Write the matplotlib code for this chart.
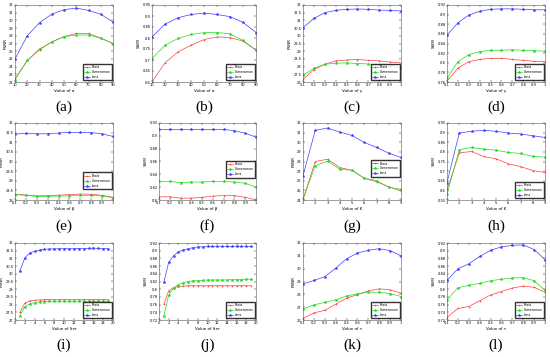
import matplotlib
matplotlib.use("Agg")
import matplotlib.pyplot as plt

W, H = 550, 357

names = ["Boats", "Cameraman", "Lena"]
colors = ["#ff4040", "#20dd20", "#4040ff"]
markers = ["+", "*", "*"]

# x values
x_alpha = [10, 20, 30, 40, 50, 60, 70, 80, 90]
x_frac = [0.1, 0.2, 0.3, 0.4, 0.5, 0.6, 0.7, 0.8, 0.9, 1.0]
x_k = [1, 2, 3, 4, 5, 6, 7, 8, 9]
x_iter = list(range(1, 20))

# (a) PSNR vs alpha
a_boats = [22.4, 24.8, 26.2, 27.2, 27.9, 28.3, 28.3, 27.7, 27.0]
a_camera = [22.3, 24.8, 26.3, 27.2, 27.9, 28.1, 28.1, 27.7, 27.0]
a_lena = [25.0, 28.0, 29.7, 30.8, 31.4, 31.6, 31.3, 30.8, 29.8]
# (b) SSIM vs alpha
b_boats = [0.600, 0.687, 0.737, 0.767, 0.793, 0.805, 0.802, 0.786, 0.745]
b_camera = [0.706, 0.767, 0.798, 0.816, 0.824, 0.825, 0.819, 0.789, 0.745]
b_lena = [0.805, 0.863, 0.892, 0.907, 0.913, 0.907, 0.897, 0.871, 0.825]
# (c) PSNR vs gamma
c_boats = [27.17, 27.80, 28.15, 28.37, 28.43, 28.46, 28.41, 28.37, 28.30, 28.24]
c_camera = [27.43, 27.89, 28.15, 28.22, 28.24, 28.20, 28.17, 28.11, 28.02, 27.93]
c_lena = [30.52, 31.13, 31.50, 31.65, 31.72, 31.74, 31.72, 31.67, 31.65, 31.61]
# (d) SSIM vs gamma
d_boats = [0.762, 0.789, 0.802, 0.807, 0.809, 0.809, 0.807, 0.805, 0.803, 0.802]
d_camera = [0.768, 0.802, 0.817, 0.823, 0.826, 0.826, 0.827, 0.826, 0.825, 0.824]
d_lena = [0.857, 0.883, 0.899, 0.907, 0.911, 0.912, 0.912, 0.911, 0.910, 0.910]
# (e) PSNR vs beta
e_boats = [28.30, 28.26, 28.21, 28.23, 28.25, 28.28, 28.31, 28.30, 28.24, 28.14]
e_camera = [28.28, 28.24, 28.19, 28.19, 28.21, 28.22, 28.24, 28.24, 28.21, 28.12]
e_lena = [31.43, 31.46, 31.44, 31.44, 31.48, 31.51, 31.51, 31.50, 31.44, 31.30]
# (f) SSIM vs beta
f_boats = [0.805, 0.805, 0.803, 0.803, 0.804, 0.806, 0.807, 0.807, 0.804, 0.800]
f_camera = [0.829, 0.829, 0.827, 0.828, 0.828, 0.829, 0.829, 0.828, 0.826, 0.820]
f_lena = [0.910, 0.910, 0.910, 0.910, 0.910, 0.910, 0.910, 0.908, 0.904, 0.898]
# (g) PSNR vs K
g_boats = [24.07, 28.00, 28.24, 27.37, 27.10, 26.26, 25.90, 25.36, 24.94]
g_camera = [24.07, 27.58, 28.03, 27.20, 27.10, 26.26, 26.02, 25.32, 25.11]
g_lena = [26.54, 31.23, 31.48, 31.06, 30.71, 29.98, 29.46, 28.87, 28.42]
# (h) SSIM vs K
h_boats = [0.602, 0.795, 0.802, 0.776, 0.764, 0.738, 0.724, 0.703, 0.693]
h_camera = [0.580, 0.811, 0.823, 0.814, 0.809, 0.797, 0.792, 0.776, 0.773]
h_lena = [0.640, 0.898, 0.907, 0.912, 0.907, 0.898, 0.893, 0.884, 0.875]
# (i) PSNR vs iterations
i_boats = [27.50, 28.09, 28.24, 28.28, 28.30, 28.32, 28.33, 28.33, 28.33, 28.33,
           28.33, 28.33, 28.33, 28.33, 28.33, 28.33, 28.33, 28.33, 28.33]
i_camera = [27.28, 27.87, 28.04, 28.13, 28.17, 28.20, 28.21, 28.22, 28.22, 28.22,
            28.22, 28.22, 28.22, 28.22, 28.22, 28.22, 28.22, 28.22, 28.22]
i_lena = [30.20, 31.02, 31.35, 31.46, 31.54, 31.59, 31.61, 31.62, 31.63, 31.63,
          31.63, 31.63, 31.64, 31.64, 31.65, 31.67, 31.65, 31.64, 31.63]
# (j) SSIM vs iterations
j_boats = [0.761, 0.796, 0.804, 0.807, 0.808, 0.809, 0.809, 0.809, 0.809, 0.809,
           0.809, 0.809, 0.809, 0.809, 0.809, 0.809, 0.809, 0.809, 0.809]
j_camera = [0.731, 0.785, 0.803, 0.812, 0.817, 0.820, 0.822, 0.822, 0.823, 0.824,
            0.824, 0.824, 0.824, 0.824, 0.825, 0.825, 0.825, 0.826, 0.826]
j_lena = [0.818, 0.870, 0.887, 0.897, 0.902, 0.905, 0.908, 0.910, 0.910, 0.911,
          0.911, 0.911, 0.911, 0.911, 0.911, 0.912, 0.911, 0.911, 0.911]
# (k) PSNR vs tau
k_boats = [26.13, 26.55, 26.76, 27.23, 27.70, 27.98, 28.27, 28.43, 28.35, 28.09]
k_camera = [26.86, 27.17, 27.38, 27.57, 27.88, 28.03, 28.17, 28.17, 28.06, 27.83]
k_lena = [28.82, 29.08, 29.37, 30.04, 30.77, 31.22, 31.43, 31.56, 31.40, 31.01]
# (l) SSIM vs tau
l_boats = [0.727, 0.750, 0.755, 0.770, 0.785, 0.794, 0.803, 0.808, 0.805, 0.792]
l_camera = [0.772, 0.804, 0.810, 0.815, 0.822, 0.826, 0.829, 0.830, 0.822, 0.797]
l_lena = [0.823, 0.853, 0.866, 0.885, 0.901, 0.910, 0.914, 0.915, 0.903, 0.877]

panels = [
    ("a", x_alpha, [a_boats, a_camera, a_lena], "PSNR", "Value of \u03b1", (22, 32), 1),
    ("b", x_alpha, [b_boats, b_camera, b_lena], "SSIM", "Value of \u03b1", (0.6, 0.95), 0.05),
    ("c", x_frac, [c_boats, c_camera, c_lena], "PSNR", "Value of \u03b3", (27, 32), 0.5),
    ("d", x_frac, [d_boats, d_camera, d_lena], "SSIM", "Value of \u03b3", (0.76, 0.92), 0.02),
    ("e", x_frac, [e_boats, e_camera, e_lena], "PSNR", "Value of \u03b2", (28, 32), 0.5),
    ("f", x_frac, [f_boats, f_camera, f_lena], "SSIM", "Value of \u03b2", (0.8, 0.92), 0.02),
    ("g", x_k, [g_boats, g_camera, g_lena], "PSNR", "Value of K", (24, 32), 1),
    ("h", x_k, [h_boats, h_camera, h_lena], "SSIM", "Value of K", (0.55, 0.95), 0.05),
    ("i", x_iter, [i_boats, i_camera, i_lena], "PSNR", "Value of Iter", (27, 32), 0.5),
    ("j", x_iter, [j_boats, j_camera, j_lena], "SSIM", "Value of Iter", (0.72, 0.92), 0.02),
    ("k", x_frac, [k_boats, k_camera, k_lena], "PSNR", "Value of \u03c4", (26, 32), 1),
    ("l", x_frac, [l_boats, l_camera, l_lena], "SSIM", "Value of \u03c4", (0.72, 0.92), 0.02),
]

# legend bottom edge (axes fraction) per panel
legend_y = [0.02, 0.02, 0.02, 0.02, 0.14, 0.29, 0.30, 0.02, 0.02, 0.02, 0.02, 0.02]

# axes boxes in pixels: left, right
col_lr = [[(15, 113), (152, 256), (303, 401), (447, 545)],
          [(15, 113), (159, 256), (303, 401), (447, 545)],
          [(15, 113), (159, 256), (303, 401), (447, 545)]]
row_tb = [(5, 82), (123, 200), (243, 320)]
label_y = [107, 226, 345]

fig = plt.figure(figsize=(W / 100, H / 100), dpi=100)

for n, (tag, xs, series, ylab, xlab, ylim, ystep) in enumerate(panels):
    r, c = divmod(n, 4)
    l, rr = col_lr[r][c]
    t, b = row_tb[r]
    ax = fig.add_axes([l / W, 1 - b / H, (rr - l) / W, (b - t) / H])
    for ys, name, col, mk in zip(series, names, colors, markers):
        ax.plot(xs, ys, color=col, marker=mk, ms=2.0, lw=0.5, mew=0.4, label=name)
    ax.set_ylim(*ylim)
    nt = int(round((ylim[1] - ylim[0]) / ystep))
    ax.set_yticks([ylim[0] + i * ystep for i in range(nt + 1)])
    ax.set_yticklabels(["%g" % round(ylim[0] + i * ystep, 3) for i in range(nt + 1)])
    if xs is x_iter:
        ax.set_xlim(0, 20)
        ax.set_xticks(range(0, 21, 2))
    else:
        ax.set_xlim(xs[0], xs[-1])
        ax.set_xticks(xs)
        ax.set_xticklabels(["%g" % v for v in xs])
    ax.tick_params(labelsize=2.6, length=1.2, width=0.3, direction="in", pad=1,
                   top=True, right=True)
    for s in ax.spines.values():
        s.set_linewidth(0.4)
        s.set_color("#555555")
    ax.set_xlabel(xlab, fontsize=3, labelpad=1)
    ax.set_ylabel(ylab, fontsize=3, labelpad=1)
    ax.legend(loc="lower right", bbox_to_anchor=(0.99, legend_y[n]), fontsize=2.2,
              frameon=True, fancybox=False, edgecolor="black", handlelength=2.0,
              handletextpad=0.5, borderpad=0.5, labelspacing=0.3, borderaxespad=0)
    fig.text((l + rr) / 2 / W, 1 - label_y[r] / H, "(%s)" % tag, ha="center",
             va="center", fontsize=11, family="Liberation Serif")

fig.savefig("out.png", dpi=100)
